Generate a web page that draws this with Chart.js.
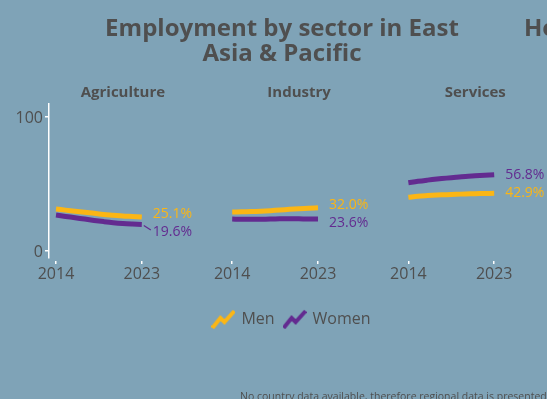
<!DOCTYPE html>
<html>
<head>
<meta charset="utf-8">
<script src="https://cdn.jsdelivr.net/npm/chart.js@4/dist/chart.umd.min.js"></script>
<style>
  html, body { margin: 0; padding: 0; background: #7fa3b7; }
  #wrap { width: 547px; height: 399px; position: relative; overflow: hidden; }
  canvas { display: block; }
</style>
</head>
<body>
<div id="wrap"><canvas id="c" width="547" height="399"></canvas></div>
<script>
// Employment share by sector, East Asia & Pacific, 2014–2023 (%)
const years = [2014, 2015, 2016, 2017, 2018, 2019, 2020, 2021, 2022, 2023];
const tickYears = ['2014', '2023'];
const sectors = ['Agriculture', 'Industry', 'Services'];
const seriesNames = ['Men', 'Women'];

const menAgriculture   = [31.1, 30.3, 29.5, 28.7, 27.9, 27.1, 26.5, 25.9, 25.5, 25.1];
const womenAgriculture = [26.6, 25.6, 24.6, 23.6, 22.6, 21.7, 20.9, 20.3, 19.9, 19.6];
const menIndustry      = [28.9, 29.0, 29.2, 29.5, 29.9, 30.4, 30.9, 31.4, 31.8, 32.0];
const womenIndustry    = [23.6, 23.4, 23.4, 23.5, 23.6, 23.8, 23.9, 23.8, 23.6, 23.6];
const menServices      = [39.9, 40.7, 41.2, 41.6, 41.9, 42.2, 42.4, 42.6, 42.8, 42.9];
const womenServices    = [50.8, 51.9, 52.8, 53.6, 54.3, 55.0, 55.6, 56.0, 56.4, 56.8];

const yTicks = [0, 100];

const menBySector = [menAgriculture, menIndustry, menServices];
const womenBySector = [womenAgriculture, womenIndustry, womenServices];

const MEN_COLOR = '#fbb615';
const WOMEN_COLOR = '#632b90';
const TEXT_COLOR = '#4f4f4f';
const FONT = '"Open Sans", "Noto Sans", sans-serif';

// each small panel sits on a shared linear x axis, one unit per year
const PANEL_STEP = 18.48;
const span = years.length - 1;

function buildSeries(bySector) {
  const pts = [];
  bySector.forEach((vals, s) => {
    vals.forEach((v, i) => pts.push({ x: s * PANEL_STEP + (years[i] - years[0]), y: v }));
    if (s < bySector.length - 1) pts.push({ x: s * PANEL_STEP + span + 1, y: null });
  });
  return pts;
}

// zigzag legend icons
function zigzagIcon(color) {
  const c = document.createElement('canvas');
  c.width = 24; c.height = 20;
  const g = c.getContext('2d');
  g.strokeStyle = color;
  g.lineWidth = 4;
  g.lineJoin = 'miter';
  g.beginPath();
  g.moveTo(1, 19);
  g.lineTo(9, 9);
  g.lineTo(13, 13);
  g.lineTo(23, 2);
  g.stroke();
  return c;
}

// the legend row sits a little right of the canvas centre
const legendOffset = {
  id: 'legendOffset',
  afterLayout(chart) {
    const lg = chart.legend;
    if (lg) { lg.left += 18.5; lg.right += 18.5; lg.top += 1; lg.bottom += 1; }
  }
};

const decorations = {
  id: 'decorations',
  afterDraw(chart) {
    const { ctx } = chart;
    const xs = chart.scales.x;
    const ys = chart.scales.y;
    ctx.save();
    ctx.fillStyle = TEXT_COLOR;
    ctx.textAlign = 'center';
    ctx.textBaseline = 'alphabetic';
    ctx.font = 'bold 24px ' + FONT;
    ctx.fillText('Employment by sector in East', 282, 36);
    ctx.fillText('Asia & Pacific', 282, 61);
    ctx.textAlign = 'left';
    ctx.fillText('How', 524, 36);

    // panel headings
    ctx.textAlign = 'center';
    ctx.font = 'bold 15px ' + FONT;
    sectors.forEach((name, s) => {
      const cx = xs.getPixelForValue(s * PANEL_STEP + span / 2) + 24;
      ctx.fillText(name, cx, 97);
    });

    // end-of-line value labels
    ctx.font = '14px ' + FONT;
    ctx.textAlign = 'left';
    ctx.textBaseline = 'middle';
    sectors.forEach((name, s) => {
      const xEnd = s * PANEL_STEP + span;
      const px = xs.getPixelForValue(xEnd);
      const items = [
        { v: menBySector[s][span], color: MEN_COLOR },
        { v: womenBySector[s][span], color: WOMEN_COLOR }
      ].map(d => ({ ...d, py: ys.getPixelForValue(d.v) }));
      items.forEach(d => d.ly = d.py);
      items.sort((a, b) => a.py - b.py);
      const minGap = 18;
      if (items[1].ly - items[0].ly < minGap) {
        items[0].ly -= 3;
        items[1].ly = items[0].ly + minGap;
      }
      items.forEach(d => {
        const lx = px + 11;
        if (Math.abs(d.ly - d.py) > 6) {
          ctx.strokeStyle = d.color;
          ctx.lineWidth = 1.2;
          ctx.beginPath();
          ctx.moveTo(px + 2, d.py + 1);
          ctx.lineTo(lx - 2, d.ly - 2);
          ctx.stroke();
        }
        ctx.fillStyle = d.color;
        ctx.fillText(d.v.toFixed(1) + '%', lx, d.ly);
      });
    });

    // footnote
    ctx.fillStyle = TEXT_COLOR;
    ctx.textAlign = 'left';
    ctx.textBaseline = 'alphabetic';
    ctx.font = '10.5px ' + FONT;
    ctx.fillText('No country data available, therefore regional data is presented', 240, 400);
    ctx.restore();
  }
};

Chart.defaults.font.family = FONT;

new Chart(document.getElementById('c'), {
  type: 'line',
  data: {
    datasets: [
      {
        label: seriesNames[0],
        data: buildSeries(menBySector),
        borderColor: MEN_COLOR,
        backgroundColor: MEN_COLOR,
        pointStyle: zigzagIcon(MEN_COLOR)
      },
      {
        label: seriesNames[1],
        data: buildSeries(womenBySector),
        borderColor: WOMEN_COLOR,
        backgroundColor: WOMEN_COLOR,
        pointStyle: zigzagIcon(WOMEN_COLOR)
      }
    ]
  },
  options: {
    responsive: false,
    animation: false,
    spanGaps: false,
    layout: { padding: { top: 104, right: 0, bottom: 63, left: 0 } },
    elements: {
      line: { borderWidth: 5, tension: 0.35, borderCapStyle: 'butt' },
      point: { radius: 0, hoverRadius: 0 }
    },
    scales: {
      x: {
        type: 'linear',
        min: -0.734,
        max: 51.5,
        afterBuildTicks(scale) {
          const t = [];
          sectors.forEach((_, s) => {
            t.push({ value: s * PANEL_STEP });
            t.push({ value: s * PANEL_STEP + span });
          });
          scale.ticks = t;
        },
        afterFit(scale) { scale.height = 42; },
        ticks: {
          autoSkip: false,
          maxRotation: 0,
          padding: 1,
          color: TEXT_COLOR,
          font: { size: 16 },
          callback(value) {
            const off = value - Math.floor(value / PANEL_STEP + 1e-6) * PANEL_STEP;
            return off < 1 ? tickYears[0] : tickYears[1];
          }
        },
        grid: {
          drawOnChartArea: false,
          tickLength: 6,
          color: '#ffffff',
          lineWidth: 1.5,
          tickBorderDash: [0, 3, 3, 20]
        },
        border: { display: false }
      },
      y: {
        min: -5.6,
        max: 109.9,
        afterBuildTicks(scale) { scale.ticks = yTicks.map(v => ({ value: v })); },
        afterFit(scale) { scale.width = 49; },
        ticks: { color: TEXT_COLOR, font: { size: 16 }, padding: 2, labelOffset: 1.5 },
        grid: { drawOnChartArea: false, tickLength: 4, color: '#ffffff', lineWidth: 1.5 },
        border: { display: true, color: '#ffffff', width: 1.5 }
      }
    },
    plugins: {
      title: { display: false },
      tooltip: { enabled: false },
      legend: {
        position: 'bottom',
        labels: {
          usePointStyle: true,
          pointStyleWidth: 20,
          color: TEXT_COLOR,
          font: { size: 16 },
          padding: 10
        }
      }
    }
  },
  plugins: [legendOffset, decorations]
});
</script>
</body>
</html>
